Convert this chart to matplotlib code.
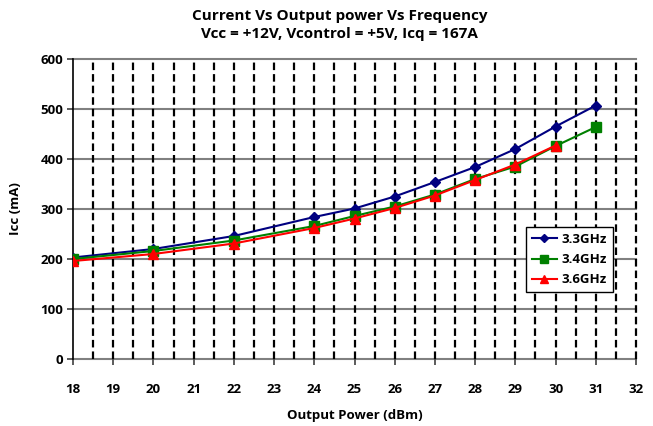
import matplotlib
matplotlib.use("Agg")
import matplotlib.pyplot as plt
import numpy as np

plt.rcParams['font.family'] = ['Open Sans', 'DejaVu Sans']
plt.rcParams['font.weight'] = 'bold'

# values
power = [18, 20, 22, 24, 25, 26, 27, 28, 29, 30, 31]
icc_33 = [203, 220, 246, 284, 301, 325, 354, 384, 420, 465, 507]
icc_34 = [200, 216, 237, 266, 286, 305, 329, 360, 385, 426, 464]
icc_36 = [196, 210, 231, 262, 281, 302, 327, 358, 389, 427]
x_ticks = list(range(18, 33))
y_ticks = [0, 100, 200, 300, 400, 500, 600]

fig = plt.figure(figsize=(6.53, 4.26), dpi=100)
ax = fig.add_axes([73 / 653, 67 / 426, 563 / 653, 300 / 426])

ax.set_xlim(18, 32)
ax.set_ylim(0, 600)

# grid: gray solid horizontals, black dashed verticals every half unit
for yv in y_ticks:
    ax.axhline(yv, color='#808080', lw=1.5, zorder=1, clip_on=False)
for xv in np.arange(18.5, 32.01, 0.5):
    ax.axvline(xv, color='black', lw=1.6, ls=(0, (3.4, 1.8)), zorder=1, clip_on=False)

ax.plot(power, icc_33, color='#000080', marker='D', ms=5, lw=1.5, label='3.3GHz', zorder=3)
ax.plot(power, icc_34, color='#008000', marker='s', ms=6.5, lw=1.5, label='3.4GHz', zorder=3)
ax.plot(power[:len(icc_36)], icc_36, color='#FF0000', marker='^', ms=7, lw=1.5, label='3.6GHz', zorder=4)

for side in ['top', 'right', 'bottom']:
    ax.spines[side].set_visible(False)
ax.spines['left'].set_color('black')
ax.spines['left'].set_linewidth(1.2)
ax.spines['left'].set_zorder(2)

ax.set_xticks(x_ticks)
ax.set_yticks(y_ticks)
ax.tick_params(axis='x', direction='out', length=4, width=1.2, color='#404040',
               labelsize=9.5, pad=13)
ax.tick_params(axis='y', direction='out', length=4, width=1.2, color='#404040',
               labelsize=9.5, pad=3)
for lab in ax.get_xticklabels() + ax.get_yticklabels():
    lab.set_fontweight('bold')

ax.set_xlabel('Output Power (dBm)', fontsize=9.5, fontweight='bold', labelpad=10)
ax.set_ylabel('Icc (mA)', fontsize=9.5, fontweight='bold', labelpad=13)

fig.text(0.52, 1 - 16 / 426, 'Current Vs Output power Vs Frequency', ha='center', va='center',
         fontsize=11, fontweight='bold')
fig.text(0.52, 1 - 34 / 426, 'Vcc = +12V, Vcontrol = +5V, Icq = 167A', ha='center', va='center',
         fontsize=11, fontweight='bold')

leg = ax.legend(loc='upper left', bbox_to_anchor=(0.804, 0.44), fontsize=9.5,
                frameon=True, fancybox=False, edgecolor='black', framealpha=1,
                handlelength=1.9, labelspacing=0.55, borderpad=0.45, handletextpad=0.4,
                borderaxespad=0, markerscale=0.8)
leg.get_frame().set_linewidth(1.0)
for t in leg.get_texts():
    t.set_fontweight('bold')

fig.savefig('out.png', dpi=100)
